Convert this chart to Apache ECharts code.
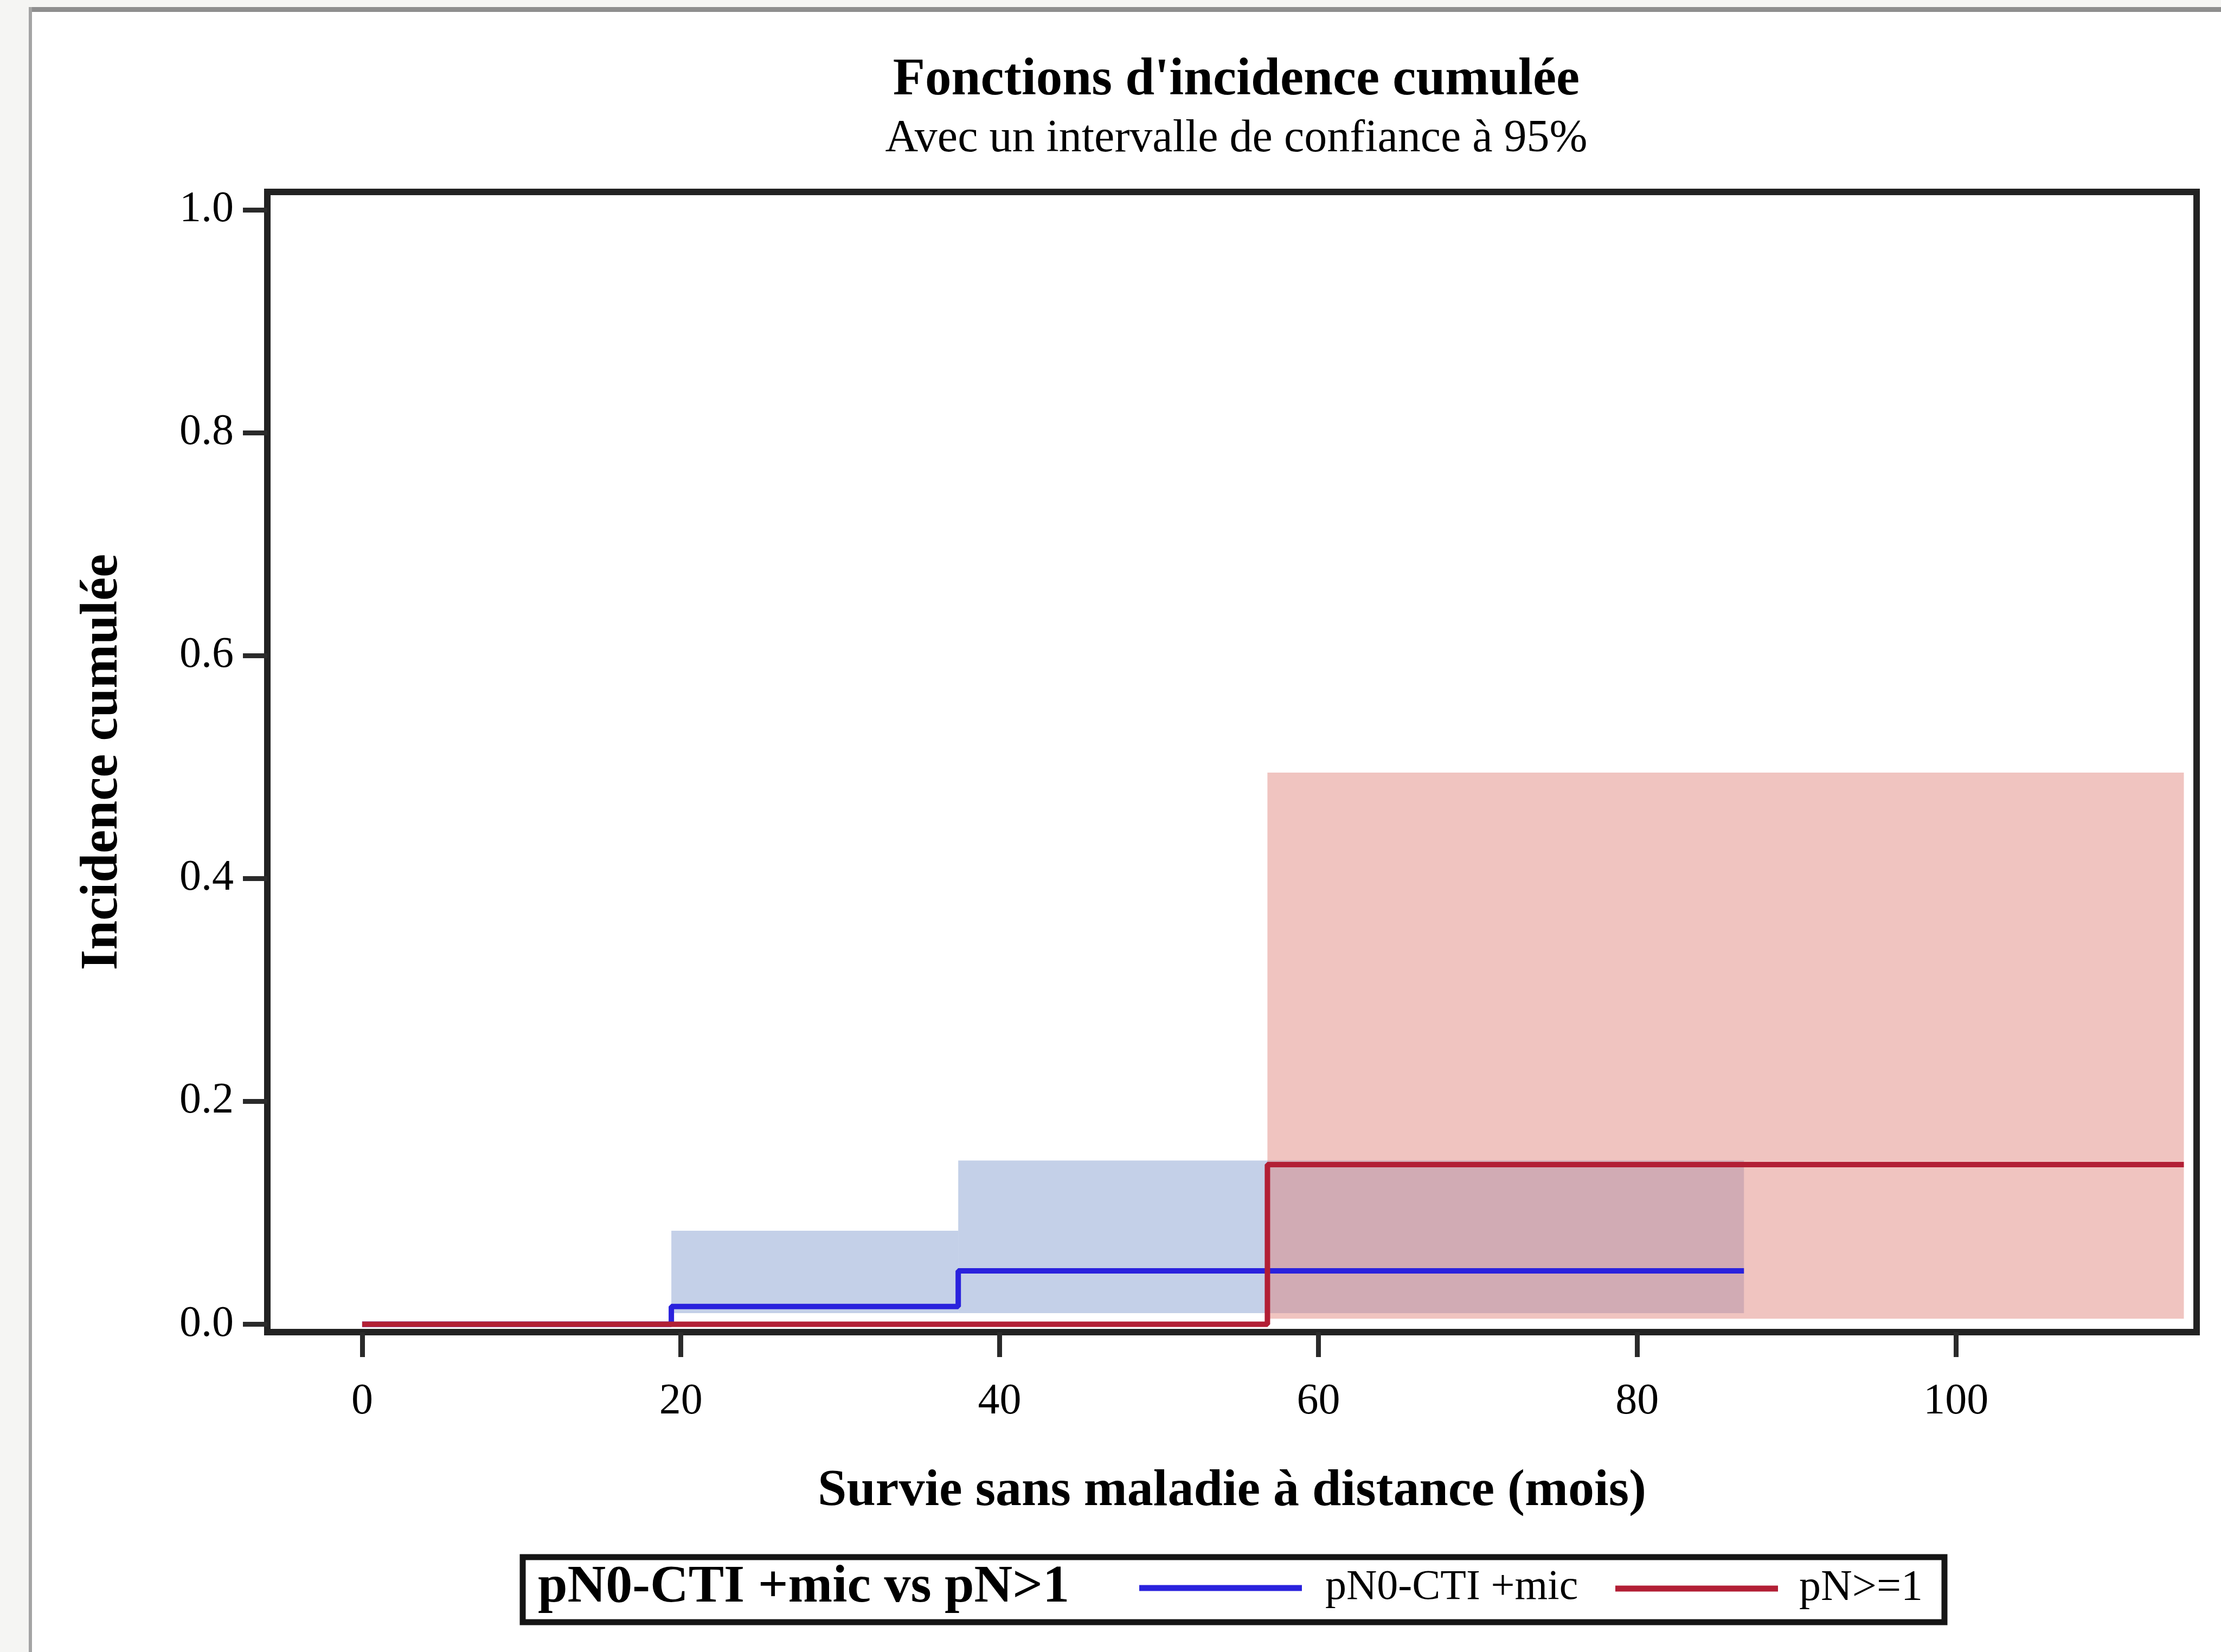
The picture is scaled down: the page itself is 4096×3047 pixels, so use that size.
<!DOCTYPE html>
<html>
<head>
<meta charset="utf-8">
<script src="https://cdn.jsdelivr.net/npm/echarts@6/dist/echarts.min.js"></script>
<style>
html,body{margin:0;padding:0;background:#f5f5f3;}
#chart{width:4096px;height:3047px;}
</style>
</head>
<body>
<div id="chart"></div>
<script>
// ---- Data ----
const chartTitle = "Fonctions d'incidence cumulée";
const chartSubtitle = "Avec un intervalle de confiance à 95%";
const xAxisTitle = "Survie sans maladie à distance (mois)";
const yAxisTitle = "Incidence cumulée";
const legendTitle = "pN0-CTI +mic vs pN>1";
const groupNames = ["pN0-CTI +mic", "pN>=1"];

const xTicks = [0, 20, 40, 60, 80, 100];
const yTicks = [0.0, 0.2, 0.4, 0.6, 0.8, 1.0];

// Step curves: time (months) and cumulative incidence after that time
const blueTimes = [0, 19.4, 37.4, 86.7];
const blueCIF   = [0, 0.016, 0.048, 0.048];
const redTimes  = [0, 56.8, 114.3];
const redCIF    = [0, 0.1433, 0.1433];

// 95% confidence bands: [start, end, lower, upper]
const blueBandStart = [19.4, 37.4];
const blueBandEnd   = [37.4, 86.7];
const blueBandLow   = [0.010, 0.010];
const blueBandHigh  = [0.084, 0.147];
const redBandStart  = [56.8];
const redBandEnd    = [114.3];
const redBandLow    = [0.005];
const redBandHigh   = [0.495];

// ---- Build ----
const zip = (a, b) => a.map((v, i) => [v, b[i]]);
const bands = (s, e, l, h) => s.map((v, i) => [v, e[i], l[i], h[i]]);

const FONT = "'Liberation Serif', 'Times New Roman', serif";
const BLUE = '#2a22dd', RED = '#b21f35';
const BLUE_FILL = 'rgba(129,155,206,0.47)', RED_FILL = 'rgba(223,129,121,0.47)';

function bandRender(fill) {
  return function (params, api) {
    const p0 = api.coord([api.value(0), api.value(3)]);
    const p1 = api.coord([api.value(1), api.value(2)]);
    return {
      type: 'rect',
      shape: { x: p0[0], y: p0[1], width: p1[0] - p0[0], height: p1[1] - p0[1] },
      style: { fill: fill }
    };
  };
}

const chart = echarts.init(document.getElementById('chart'), null, { renderer: 'canvas' });
const GL = 493, GT = 354, GR = 4051, GB = 2457;

const option = {
  animation: false,
  backgroundColor: 'transparent',
  title: [
    { text: chartTitle, left: 2275, top: 95, textAlign: 'center',
      textStyle: { fontFamily: FONT, fontWeight: 'bold', fontSize: 97, color: '#000' } },
    { text: chartSubtitle, left: 2275, top: 210, textAlign: 'center',
      textStyle: { fontFamily: FONT, fontWeight: 'normal', fontSize: 84, color: '#000' } }
  ],
  graphic: [
    { type: 'rect', z: -10, shape: { x: 59, y: 22, width: 4100, height: 3100 }, style: { fill: '#ffffff' } },
    { type: 'rect', z: -9, shape: { x: 53, y: 13, width: 4100, height: 9 }, style: { fill: '#8e8e8e' } },
    { type: 'rect', z: -9, shape: { x: 53, y: 13, width: 6, height: 3100 }, style: { fill: '#a4a4a4' } },
    { type: 'rect', z: 5, shape: { x: 964, y: 2872, width: 3586 - 964, height: 2992 - 2872 },
      style: { fill: 'none', stroke: '#151515', lineWidth: 11 } },
    { type: 'text', z: 6, x: 992, y: 2929,
      style: { text: legendTitle, fontFamily: FONT, fontWeight: 'bold', fontSize: 98,
               fill: '#000', align: 'left', verticalAlign: 'middle' } }
  ],
  legend: [
    { data: [groupNames[0]], left: 2101, top: 2890, padding: 0, icon: 'rect',
      itemWidth: 300, itemHeight: 11, selectedMode: false,
      textStyle: { fontFamily: FONT, fontSize: 78, color: '#000', padding: [0, 0, 0, 38] } },
    { data: [groupNames[1]], left: 2979, top: 2890, padding: 0, icon: 'rect',
      itemWidth: 300, itemHeight: 11, selectedMode: false,
      textStyle: { fontFamily: FONT, fontSize: 80, color: '#000', padding: [0, 0, 0, 34] } }
  ],
  grid: {
    left: GL, top: GT, width: GR - GL, height: GB - GT,
    show: true, borderColor: '#222', borderWidth: 12, backgroundColor: 'transparent',
    containLabel: false
  },
  xAxis: {
    type: 'value', min: -5.95, max: 115.1,
    name: xAxisTitle, nameLocation: 'middle', nameGap: 246,
    nameTextStyle: { fontFamily: FONT, fontWeight: 'bold', fontSize: 96, color: '#000' },
    axisLine: { show: false, onZero: false },
    splitLine: { show: false },
    axisTick: { show: true, customValues: xTicks, length: 46, lineStyle: { color: '#2a2a2a', width: 9 } },
    axisLabel: { customValues: xTicks, margin: 89, fontFamily: FONT, fontSize: 80, color: '#000',
                 formatter: v => String(v) }
  },
  yAxis: {
    type: 'value', min: -0.007, max: 1.016,
    name: yAxisTitle, nameLocation: 'middle', nameGap: 255, nameRotate: 90,
    nameTextStyle: { fontFamily: FONT, fontWeight: 'bold', fontSize: 97, color: '#000' },
    axisLine: { show: false, onZero: false },
    splitLine: { show: false },
    axisTick: { show: true, customValues: yTicks, length: 45, lineStyle: { color: '#2a2a2a', width: 9 } },
    axisLabel: { customValues: yTicks, margin: 62, fontFamily: FONT, fontSize: 80, color: '#000',
                 formatter: v => v.toFixed(1) }
  },
  series: [
    { name: 'IC 95% ' + groupNames[0], type: 'custom', renderItem: bandRender(BLUE_FILL),
      data: bands(blueBandStart, blueBandEnd, blueBandLow, blueBandHigh),
      encode: { x: [0, 1], y: [2, 3] }, z: 1, silent: true },
    { name: 'IC 95% ' + groupNames[1], type: 'custom', renderItem: bandRender(RED_FILL),
      data: bands(redBandStart, redBandEnd, redBandLow, redBandHigh),
      encode: { x: [0, 1], y: [2, 3] }, z: 2, silent: true },
    { name: groupNames[0], type: 'line', step: 'end', symbol: 'none', z: 3,
      data: zip(blueTimes, blueCIF),
      itemStyle: { color: BLUE }, lineStyle: { color: BLUE, width: 10 } },
    { name: groupNames[1], type: 'line', step: 'end', symbol: 'none', z: 4,
      data: zip(redTimes, redCIF),
      itemStyle: { color: RED }, lineStyle: { color: RED, width: 10 } }
  ]
};
chart.setOption(option);
</script>
</body>
</html>
